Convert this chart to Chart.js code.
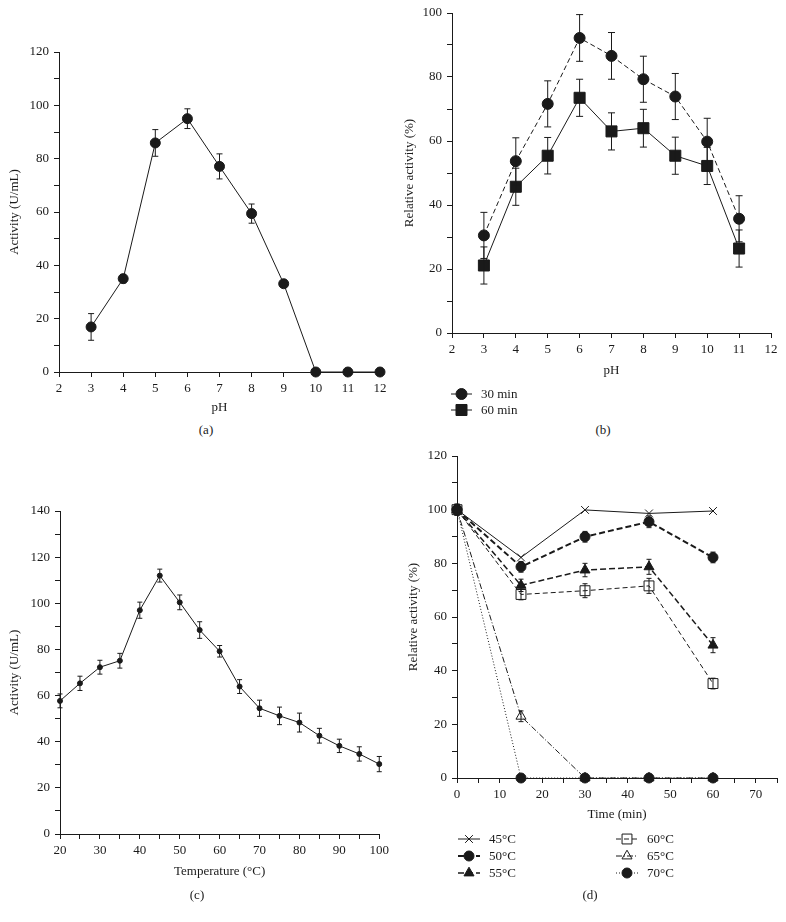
<!DOCTYPE html>
<html>
<head>
<meta charset="utf-8">
<script src="https://cdn.jsdelivr.net/npm/chart.js@4.4.1/dist/chart.umd.min.js"></script>
<style>
  body { margin: 0; background: #fff; }
  #page { position: relative; width: 786px; height: 922px; }
  canvas { position: absolute; }
  .cap { position: absolute; font: 13px "Liberation Serif", serif; color: #222; transform: translateX(-50%); }
</style>
</head>
<body>
<div id="page">
  <canvas id="ca" width="393" height="420" style="left:0;top:0"></canvas>
  <canvas id="cb" width="393" height="420" style="left:393px;top:0"></canvas>
  <canvas id="cc" width="393" height="482" style="left:0;top:440px"></canvas>
  <canvas id="cd" width="393" height="482" style="left:393px;top:440px"></canvas>
  <div class="cap" style="left:206px;top:422px">(a)</div>
  <div class="cap" style="left:603px;top:422px">(b)</div>
  <div class="cap" style="left:197px;top:887px">(c)</div>
  <div class="cap" style="left:590px;top:887px">(d)</div>
</div>
<script>
// (a) pH vs activity
const phA = [3, 4, 5, 6, 7, 8, 9, 10, 11, 12];
const actA = [16.9, 35, 85.9, 95, 77.1, 59.4, 33.1, 0, 0, 0];
const errA = [5, 1.6, 5, 3.7, 4.7, 3.6, 0, 0, 0, 0];

// (b) pH stability
const phB = [3, 4, 5, 6, 7, 8, 9, 10, 11];
const rel30 = [30.5, 53.7, 71.6, 92.2, 86.6, 79.3, 73.9, 59.8, 35.7];
const err30 = [7.2, 7.3, 7.2, 7.3, 7.3, 7.2, 7.2, 7.3, 7.2];
const rel60 = [21.1, 45.7, 55.4, 73.5, 63, 64, 55.4, 52.2, 26.4];
const err60 = [5.8, 5.8, 5.7, 5.8, 5.8, 5.9, 5.8, 5.8, 5.8];

// (c) temperature vs activity
const tempC = [20, 25, 30, 35, 40, 45, 50, 55, 60, 65, 70, 75, 80, 85, 90, 95, 100];
const actC = [57.7, 65.3, 72.3, 75.1, 97, 112, 100.4, 88.4, 79.2, 63.9, 54.5, 51.2, 48.3, 42.6, 38.2, 34.7, 30.3];
const errC = [3, 3.1, 3, 3.2, 3.5, 2.8, 3.2, 3.6, 2.5, 3, 3.5, 3.8, 4.1, 3.2, 2.9, 3.1, 3.3];

// (d) thermal stability
const timeD = [0, 15, 30, 45, 60];
const d45 = [100, 82.2, 99.9, 98.6, 99.5];
const d50 = [100, 78.7, 89.9, 95.5, 82.2];
const e50 = [2, 2, 2, 2.2, 2];
const d55 = [100, 71.8, 77.5, 78.7, 49.5];
const e55 = [2, 2.3, 2.5, 2.8, 2.8];
const d60 = [100, 68.4, 69.8, 71.6, 35.2];
const e60 = [2, 2, 2.6, 2.8, 2];
const d65 = [100, 23, 0, 0, 0];
const e65 = [2, 2, 0, 0, 0];
const d70 = [100, 0, 0, 0, 0];

const INK = "#1a1a1a";
const FONT = "'Liberation Serif', serif";
Chart.defaults.font.family = FONT;
Chart.defaults.font.size = 13;
Chart.defaults.color = INK;

const pts = (xs, ys) => xs.map((x, i) => ({ x: x, y: ys[i] }));

function series(label, xs, ys, extra) {
  return Object.assign({
    label: label,
    data: pts(xs, ys),
    showLine: true,
    borderColor: INK,
    borderWidth: 1,
    pointBackgroundColor: INK,
    pointBorderColor: INK,
    pointBorderWidth: 1,
    pointRadius: 5,
    pointStyle: "circle",
    clip: false,
  }, extra);
}

// error bars drawn through the chart scales
const errorBars = {
  id: "errorBars",
  afterDatasetsDraw(chart) {
    const ctx = chart.ctx;
    const xs = chart.scales.x, ys = chart.scales.y;
    ctx.save();
    ctx.strokeStyle = INK;
    ctx.lineWidth = 1;
    chart.data.datasets.forEach((ds) => {
      if (!ds.errors) return;
      const cap = ds.cap || 3;
      ds.data.forEach((p, i) => {
        const e = ds.errors[i];
        if (!e) return;
        const px = xs.getPixelForValue(p.x);
        const top = ys.getPixelForValue(p.y + e);
        const bot = ys.getPixelForValue(p.y - e);
        ctx.beginPath();
        ctx.moveTo(px, top); ctx.lineTo(px, bot);
        ctx.moveTo(px - cap, top); ctx.lineTo(px + cap, top);
        ctx.moveTo(px - cap, bot); ctx.lineTo(px + cap, bot);
        ctx.stroke();
      });
    });
    ctx.restore();
  },
};

// legend with a line sample and the marker on it
function lineLegend(items, sample) {
  return {
    id: "lineLegend",
    afterDraw(chart) {
      const ctx = chart.ctx;
      ctx.save();
      items.forEach((it) => {
        const ds = chart.data.datasets[it.i];
        ctx.strokeStyle = INK;
        ctx.lineWidth = ds.borderWidth;
        ctx.setLineDash(ds.borderDash || []);
        ctx.beginPath();
        ctx.moveTo(it.x, it.y);
        ctx.lineTo(it.x + sample, it.y);
        ctx.stroke();
        ctx.setLineDash([]);
        ctx.lineWidth = 1;
        ctx.fillStyle = ds.pointBackgroundColor;
        Chart.helpers.drawPoint(ctx, { pointStyle: ds.pointStyle, radius: ds.pointRadius, rotation: 0, borderWidth: 1 }, it.x + sample / 2, it.y);
        ctx.fillStyle = INK;
        ctx.font = "13px " + FONT;
        ctx.textBaseline = "middle";
        ctx.fillText(ds.label, it.x + sample + 9, it.y + 1);
      });
      ctx.restore();
    },
  };
}

function axes(o) {
  const grid = { drawOnChartArea: false, drawTicks: true, tickLength: 5, color: INK };
  const border = { display: true, color: INK, width: 1 };
  return {
    x: {
      type: "linear", min: o.xmin, max: o.xmax,
      grid: grid, border: border,
      afterFit: (s) => { s.height = o.xh; },
      ticks: { stepSize: o.xstep, autoSkip: false, maxRotation: 0, padding: 4,
        callback: (v) => (v % o.xlab === 0 ? v : "") },
      title: { display: true, text: o.xtitle, font: { size: 13 }, padding: { top: 0, bottom: o.xpb } },
    },
    y: {
      type: "linear", min: 0, max: o.ymax,
      grid: grid, border: border,
      afterFit: (s) => { s.width = o.yw; },
      ticks: { stepSize: 10, autoSkip: false, padding: 5,
        callback: (v) => (v % 20 === 0 ? v : "") },
      title: { display: true, text: o.ytitle, font: { size: 13 }, padding: { top: o.ypt, bottom: 0 } },
    },
  };
}

function make(id, datasets, pad, ax, extraPlugins) {
  return new Chart(document.getElementById(id), {
    type: "scatter",
    data: { datasets: datasets },
    options: {
      responsive: false,
      animation: false,
      layout: { padding: pad },
      plugins: { legend: { display: false }, tooltip: { enabled: false } },
      scales: axes(ax),
    },
    plugins: [errorBars].concat(extraPlugins || []),
  });
}

make("ca",
  [series("Activity", phA, actA, { errors: errA, cap: 3 })],
  { left: 0, top: 52, right: 13, bottom: 0 },
  { xmin: 2, xmax: 12, xstep: 1, xlab: 1, xh: 48, xpb: 5, xtitle: "pH",
    ymax: 120, yw: 59, ypt: 7, ytitle: "Activity (U/mL)" });

make("cb",
  [
    series("30 min", phB, rel30, { errors: err30, cap: 3.5, borderDash: [5, 3], pointRadius: 5.5 }),
    series("60 min", phB, rel60, { errors: err60, cap: 3.5, pointStyle: "rect", pointRadius: 7.8 }),
  ],
  { left: 0, top: 13, right: 15, bottom: 0 },
  { xmin: 2, xmax: 12, xstep: 1, xlab: 1, xh: 87, xpb: 42, xtitle: "pH",
    ymax: 100, yw: 59, ypt: 9, ytitle: "Relative activity (%)" },
  [lineLegend([{ i: 0, x: 58, y: 394 }, { i: 1, x: 58, y: 410 }], 21)]);

make("cc",
  [series("Activity", tempC, actC, { errors: errC, cap: 2.5, pointRadius: 2.5 })],
  { left: 0, top: 71, right: 11, bottom: 0 },
  { xmin: 20, xmax: 100, xstep: 5, xlab: 10, xh: 88, xpb: 43, xtitle: "Temperature (°C)",
    ymax: 140, yw: 60, ypt: 7, ytitle: "Activity (U/mL)" });

const OPEN = "rgba(0,0,0,0)";
make("cd",
  [
    series("45°C", timeD, d45, { pointStyle: "crossRot", pointRadius: 5.5, pointBackgroundColor: OPEN }),
    series("50°C", timeD, d50, { errors: e50, cap: 2.5, borderWidth: 2, borderDash: [6, 3] }),
    series("55°C", timeD, d55, { errors: e55, cap: 2.5, borderWidth: 1.5, borderDash: [6, 3], pointStyle: "triangle", pointRadius: 5.8 }),
    series("60°C", timeD, d60, { errors: e60, cap: 2.5, borderDash: [5, 3], pointStyle: "rect", pointRadius: 7, pointBackgroundColor: OPEN }),
    series("65°C", timeD, d65, { errors: e65, cap: 2.5, borderDash: [6, 2, 1, 2], pointStyle: "triangle", pointRadius: 5.8, pointBackgroundColor: OPEN }),
    series("70°C", timeD, d70, { borderDash: [1, 2] }),
  ],
  { left: 0, top: 16, right: 9, bottom: 0 },
  { xmin: 0, xmax: 75, xstep: 5, xlab: 10, xh: 144, xpb: 100, xtitle: "Time (min)",
    ymax: 120, yw: 64, ypt: 13, ytitle: "Relative activity (%)" },
  [lineLegend([
    { i: 0, x: 65, y: 399 }, { i: 1, x: 65, y: 416 }, { i: 2, x: 65, y: 433 },
    { i: 3, x: 223, y: 399 }, { i: 4, x: 223, y: 416 }, { i: 5, x: 223, y: 433 },
  ], 22)]);
</script>
</body>
</html>
